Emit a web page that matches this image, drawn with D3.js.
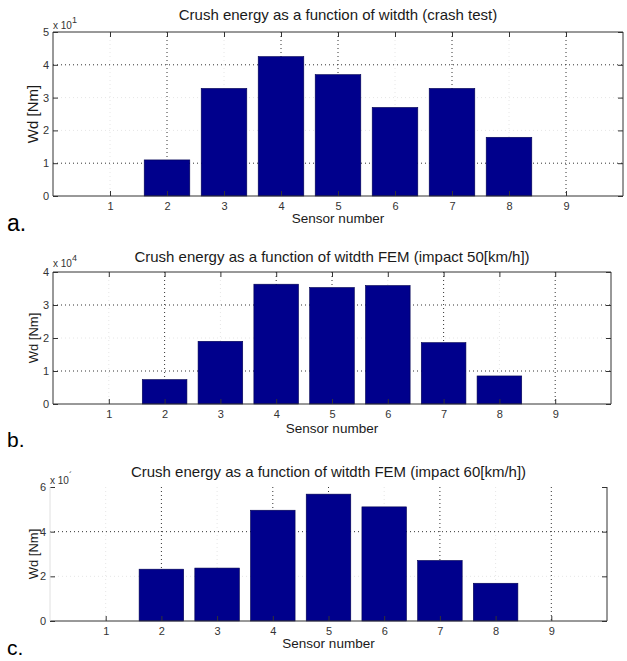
<!DOCTYPE html>
<html>
<head>
<meta charset="utf-8">
<script src="https://cdn.jsdelivr.net/npm/d3@7"></script>
<style>
  body { margin: 0; background: #fff; }
  svg { display: block; }
  text { font-family: "Liberation Sans", Arial, Helvetica, sans-serif; }
</style>
</head>
<body>
<svg id="chart" width="627" height="661"></svg>
<script>
// sensor numbers on the x axis
const sensors = [1, 2, 3, 4, 5, 6, 7, 8, 9];

// crush energy per sensor (in units of the axis multiplier)
const crashTest = [0, 1.1, 3.28, 4.25, 3.7, 2.7, 3.28, 1.79, 0];
const fem50 = [0, 0.74, 1.9, 3.63, 3.53, 3.59, 1.86, 0.85, 0];
const fem60 = [0, 2.32, 2.37, 4.96, 5.68, 5.11, 2.71, 1.69, 0];

// y tick labels
const yTicksA = [0, 1, 2, 3, 4, 5];
const yTicksB = [0, 1, 2, 3, 4];
const yTicksC = [0, 2, 4, 6];

const titles = [
    'Crush energy as a function of witdth (crash test)',
    'Crush energy as a function of witdth FEM (impact 50[km/h])',
    'Crush energy as a function of witdth FEM (impact 60[km/h])'
];
const exponents = ['1', '4', '\u00b4'];
const letters = ['a.', 'b.', 'c.'];

const barColor = '#00008c';

// layout of each panel
const panels = [
    {values: crashTest, yTicks: yTicksA, left: 53, right: 623, top: 32, bottom: 196,
     titleY: 20, xLabelY: 223, letterY: 231, letterSize: 23, yLabelSize: 15, boxTop: true, boxLeft: true,
     gridX: [2, 4, 5, 7, 9], gridY: [1, 4], expY: 29},
    {values: fem50, yTicks: yTicksB, left: 53, right: 611, top: 272, bottom: 404,
     titleY: 262, xLabelY: 433, letterY: 447, letterSize: 21, yLabelSize: 13, boxTop: true, boxLeft: true,
     gridX: [2, 4, 5, 7, 9], gridY: [1, 3], expY: 267},
    {values: fem60, yTicks: yTicksC, left: 50, right: 607, top: 487, bottom: 621,
     titleY: 477, xLabelY: 648, letterY: 655, letterSize: 21, yLabelSize: 13, boxTop: false, boxLeft: false,
     gridX: [2, 4, 5, 7, 9], gridY: [4], expY: 484}
];

const svg = d3.select('#chart');

panels.forEach(function (p, i) {
    let g = svg.append('g');
    let yMax = d3.max(p.yTicks);

    let x = d3.scaleLinear().domain([0, 10]).range([p.left, p.right]);
    let y = d3.scaleLinear().domain([0, yMax]).range([p.bottom, p.top]);

    // grid
    let grid = g.append('g').attr('class', 'grid');
    grid.selectAll('.gx')
        .data(sensors)
        .enter().append('line')
        .attr('x1', function (d) { return x(d); })
        .attr('x2', function (d) { return x(d); })
        .attr('y1', p.top)
        .attr('y2', p.bottom)
        .attr('stroke', function (d) { return p.gridX.indexOf(d) >= 0 ? '#333' : '#e6e6e6'; })
        .attr('stroke-width', 1)
        .attr('stroke-dasharray', '1,3');
    grid.selectAll('.gy')
        .data(p.yTicks.filter(function (d) { return d > 0 && d < yMax; }))
        .enter().append('line')
        .attr('x1', p.left)
        .attr('x2', p.right)
        .attr('y1', function (d) { return y(d); })
        .attr('y2', function (d) { return y(d); })
        .attr('stroke', function (d) { return p.gridY.indexOf(d) >= 0 ? '#333' : '#e6e6e6'; })
        .attr('stroke-width', 1)
        .attr('stroke-dasharray', '1,3');

    // bars
    g.selectAll('.bar')
        .data(sensors.map(function (s, k) { return [s, p.values[k]]; }).filter(function (d) { return d[1] > 0; }))
        .enter().append('rect')
        .attr('class', 'bar')
        .attr('x', function (d) { return x(d[0] - 0.4); })
        .attr('width', function (d) { return x(d[0] + 0.4) - x(d[0] - 0.4); })
        .attr('y', function (d) { return y(d[1]); })
        .attr('height', function (d) { return y(0) - y(d[1]); })
        .attr('fill', barColor)
        .attr('stroke', '#000050')
        .attr('stroke-width', 0.6);

    // axes (ticks inside, matlab style)
    g.append('g')
        .attr('transform', 'translate(0,' + p.bottom + ')')
        .call(d3.axisBottom(x).tickValues(sensors).tickFormat(d3.format('d'))
            .tickSizeInner(-5).tickSizeOuter(0).tickPadding(6));
    g.append('g')
        .attr('transform', 'translate(' + p.left + ',0)')
        .call(d3.axisLeft(y).tickValues(p.yTicks).tickFormat(d3.format('d'))
            .tickSizeInner(-5).tickSizeOuter(0).tickPadding(4));
    g.append('g')
        .attr('transform', 'translate(' + p.right + ',0)')
        .call(d3.axisRight(y).tickValues(p.yTicks).tickSizeInner(-5).tickSizeOuter(0).tickFormat(''));
    if (p.boxTop) {
        g.append('g')
            .attr('transform', 'translate(0,' + p.top + ')')
            .call(d3.axisTop(x).tickValues(sensors).tickSizeInner(-5).tickSizeOuter(0).tickFormat(''));
    }
    g.selectAll('.domain').remove();
    g.selectAll('.tick line').attr('stroke', '#333');
    g.selectAll('.tick text')
        .attr('fill', '#333')
        .style('font-size', '11px');

    // box
    let box = g.append('g').attr('fill', 'none').attr('stroke', '#333').attr('stroke-width', 1);
    box.append('line').attr('x1', p.left).attr('x2', p.right).attr('y1', p.bottom).attr('y2', p.bottom);
    box.append('line').attr('x1', p.right).attr('x2', p.right).attr('y1', p.top).attr('y2', p.bottom);
    box.append('line').attr('x1', p.left).attr('x2', p.left).attr('y1', p.top).attr('y2', p.bottom)
        .attr('stroke', p.boxLeft ? '#333' : '#e0e0e0');
    if (p.boxTop) {
        box.append('line').attr('x1', p.left).attr('x2', p.right).attr('y1', p.top).attr('y2', p.top);
    }

    // multiplier
    let exp = g.append('text')
        .attr('x', p.left)
        .attr('y', p.expY)
        .attr('fill', '#333')
        .style('font-size', '10px')
        .text('x 10');
    exp.append('tspan')
        .attr('dy', -6)
        .style('font-size', '9px')
        .text(exponents[i]);

    // title
    g.append('text')
        .attr('x', (p.left + p.right) / 2)
        .attr('y', p.titleY)
        .attr('text-anchor', 'middle')
        .attr('fill', '#1a1a1a')
        .style('font-size', '15px')
        .text(titles[i]);

    // axis labels
    g.append('text')
        .attr('x', (p.left + p.right) / 2)
        .attr('y', p.xLabelY)
        .attr('text-anchor', 'middle')
        .attr('fill', '#1a1a1a')
        .style('font-size', '13.5px')
        .text('Sensor number');
    g.append('text')
        .attr('transform', 'translate(38,' + (p.top + p.bottom) / 2 + ') rotate(-90)')
        .attr('text-anchor', 'middle')
        .attr('fill', '#1a1a1a')
        .style('font-size', p.yLabelSize + 'px')
        .text('Wd [Nm]');

    // panel letter
    g.append('text')
        .attr('x', 7)
        .attr('y', p.letterY)
        .attr('fill', '#000')
        .style('font-size', p.letterSize + 'px')
        .text(letters[i]);
});
</script>
</body>
</html>
